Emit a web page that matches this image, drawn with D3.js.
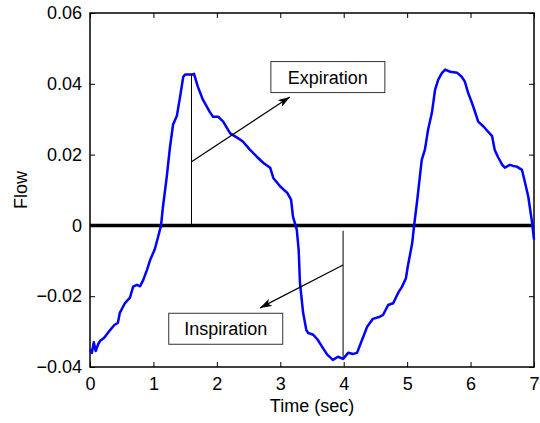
<!DOCTYPE html>
<html>
<head>
<meta charset="utf-8">
<script src="https://cdn.jsdelivr.net/npm/d3@7"></script>
<style>
  body { margin: 0; background: #fff; }
  text { font-family: "Liberation Sans", Arial, Helvetica, sans-serif; }
</style>
</head>
<body>
<div id="chart"></div>
<script>
// flow trace
var time = [0, 0.03, 0.06, 0.09, 0.13, 0.16, 0.22, 0.32, 0.38, 0.44, 0.47, 0.55, 0.63, 0.68, 0.74, 0.79, 0.84, 0.90, 0.95, 1.02,
  1.07, 1.12, 1.15, 1.21, 1.26, 1.31, 1.37, 1.42, 1.47, 1.50, 1.61, 1.64, 1.70, 1.78, 1.89, 1.94, 2.02, 2.10, 2.21, 2.32,
  2.41, 2.52, 2.63, 2.73, 2.84, 2.89, 3.00, 3.11, 3.17, 3.20, 3.26, 3.29, 3.31, 3.36, 3.41, 3.44, 3.52, 3.59, 3.66, 3.74,
  3.83, 3.91, 3.99, 4.07, 4.15, 4.21, 4.29, 4.37, 4.46, 4.57, 4.62, 4.70, 4.78, 4.86, 4.92, 4.98, 5.01, 5.08, 5.11, 5.16,
  5.20, 5.23, 5.28, 5.33, 5.39, 5.44, 5.49, 5.55, 5.60, 5.68, 5.79, 5.86, 5.91, 5.96, 6.02, 6.07, 6.12, 6.20, 6.27, 6.34,
  6.38, 6.43, 6.50, 6.54, 6.62, 6.67, 6.73, 6.81, 6.86, 6.91, 6.97, 7.0];
var flow = [-0.035, -0.036, -0.033, -0.0355, -0.0335, -0.0326, -0.0318, -0.0295, -0.0282, -0.0275, -0.0247, -0.022, -0.0204, -0.0173, -0.0168, -0.0172, -0.0154, -0.0125, -0.0097, -0.0068,
  -0.0035, 0.0, 0.0052, 0.0137, 0.022, 0.0285, 0.031, 0.0363, 0.042, 0.0426, 0.0426, 0.0428, 0.0392, 0.0355, 0.032, 0.0307, 0.0307, 0.0293, 0.026, 0.0248,
  0.0237, 0.0214, 0.0194, 0.0177, 0.0163, 0.0134, 0.011, 0.0092, 0.0073, 0.0025, -0.0012, -0.007, -0.0162, -0.0247, -0.0295, -0.0304, -0.0309, -0.0323, -0.0343, -0.0365,
  -0.038, -0.0371, -0.0377, -0.036, -0.0363, -0.036, -0.0323, -0.0286, -0.0264, -0.0258, -0.0253, -0.0225, -0.022, -0.019, -0.0173, -0.015, -0.0116, -0.005, 0.0, 0.0073,
  0.0137, 0.0185, 0.0214, 0.027, 0.0318, 0.0383, 0.0412, 0.0431, 0.044, 0.0434, 0.0431, 0.042, 0.0406, 0.0375, 0.0347, 0.0321, 0.0293, 0.028, 0.0266, 0.0252,
  0.0214, 0.0194, 0.0171, 0.0163, 0.0171, 0.0168, 0.0166, 0.0157, 0.012, 0.0081, 0.0008, -0.004];

var xTicks = [0, 1, 2, 3, 4, 5, 6, 7];
var yTicks = [-0.04, -0.02, 0, 0.02, 0.04, 0.06];

// annotations: stem line, arrow, text box (all in data units)
var noteLabels = ["Expiration", "Inspiration"];
var noteStem = [[1.6, 0, 0.0427], [3.99, -0.0015, -0.0371]];
var noteArrow = [[1.6, 0.018, 3.15, 0.0363], [3.99, -0.0112, 2.68, -0.0233]];
var noteBox = [[3.75, 0.0419], [2.14, -0.0292]];

var svgWidth = 540, svgHeight = 423;
var margin = {top: 13, right: 6, bottom: 56, left: 90};
var width = svgWidth - margin.left - margin.right;
var height = svgHeight - margin.top - margin.bottom;

var svg = d3.select("#chart").append("svg")
  .attr("width", svgWidth)
  .attr("height", svgHeight);

var defs = svg.append("defs");
defs.append("marker")
  .attr("id", "head")
  .attr("viewBox", "0 0 12 8")
  .attr("refX", 12).attr("refY", 4)
  .attr("markerWidth", 12).attr("markerHeight", 8)
  .attr("markerUnits", "userSpaceOnUse")
  .attr("orient", "auto")
  .append("path")
  .attr("d", "M0,0 L12,4 L0,8 L3,4 Z")
  .attr("fill", "#000");

var chartGroup = svg.append("g")
  .attr("transform", `translate(${margin.left}, ${margin.top})`);

var x = d3.scaleLinear().domain([0, 7]).range([0, width]);
var y = d3.scaleLinear().domain([-0.04, 0.06]).range([height, 0]);

var fmt = d => d === 0 ? "0" : d3.format(".2f")(d).replace("-", "\u2212");

// axes, ticks pointing inward on all four sides
function styleAxis(g) {
  g.select(".domain").remove();
  g.selectAll("line").attr("stroke", "#000").attr("stroke-width", 1);
  g.selectAll("text").attr("font-size", "18px").attr("fill", "#000");
}

chartGroup.append("g")
  .attr("transform", `translate(0, ${height})`)
  .call(d3.axisBottom(x).tickValues(xTicks).tickSizeInner(-5).tickSizeOuter(0).tickPadding(10).tickFormat(d3.format("d")))
  .call(styleAxis);

chartGroup.append("g")
  .call(d3.axisTop(x).tickValues(xTicks).tickSizeInner(-5).tickSizeOuter(0).tickFormat(""))
  .call(styleAxis);

chartGroup.append("g")
  .call(d3.axisLeft(y).tickValues(yTicks).tickSizeInner(-5).tickSizeOuter(0).tickPadding(8).tickFormat(fmt))
  .call(styleAxis);

chartGroup.append("g")
  .attr("transform", `translate(${width}, 0)`)
  .call(d3.axisRight(y).tickValues(yTicks).tickSizeInner(-5).tickSizeOuter(0).tickFormat(""))
  .call(styleAxis);

// axes box
chartGroup.append("rect")
  .attr("x", 0).attr("y", 0)
  .attr("width", width).attr("height", height)
  .attr("fill", "none")
  .attr("stroke", "#000")
  .attr("stroke-width", 1.5);

// zero line
chartGroup.append("line")
  .attr("x1", x(0)).attr("x2", x(7))
  .attr("y1", y(0)).attr("y2", y(0))
  .attr("stroke", "#000")
  .attr("stroke-width", 3.5);

// flow curve
var line = d3.line()
  .x(d => x(d[0]))
  .y(d => y(d[1]));

chartGroup.append("path")
  .datum(d3.zip(time, flow))
  .attr("d", line)
  .attr("fill", "none")
  .attr("stroke", "#0000ff")
  .attr("stroke-width", 2.5)
  .attr("stroke-linejoin", "round");

// annotations
noteLabels.forEach(function(label, i) {
  var s = noteStem[i], a = noteArrow[i], b = noteBox[i];
  chartGroup.append("line")
    .attr("x1", x(s[0])).attr("x2", x(s[0]))
    .attr("y1", y(s[1])).attr("y2", y(s[2]))
    .attr("stroke", "#000").attr("stroke-width", 1);
  chartGroup.append("line")
    .attr("x1", x(a[0])).attr("y1", y(a[1]))
    .attr("x2", x(a[2])).attr("y2", y(a[3]))
    .attr("stroke", "#000").attr("stroke-width", 1.2)
    .attr("marker-end", "url(#head)");
  chartGroup.append("rect")
    .attr("x", x(b[0]) - 57).attr("y", y(b[1]) - 15.5)
    .attr("width", 114).attr("height", 31)
    .attr("fill", "#fff")
    .attr("stroke", "#333").attr("stroke-width", 1);
  chartGroup.append("text")
    .attr("x", x(b[0])).attr("y", y(b[1]) + 6.5)
    .attr("text-anchor", "middle")
    .attr("font-size", "18px")
    .text(label);
});

// axis labels
svg.append("text")
  .attr("x", margin.left + width / 2)
  .attr("y", 412)
  .attr("text-anchor", "middle")
  .attr("font-size", "18px")
  .text("Time (sec)");

svg.append("text")
  .attr("transform", `translate(27, ${margin.top + height / 2}) rotate(-90)`)
  .attr("text-anchor", "middle")
  .attr("font-size", "18px")
  .text("Flow");
</script>
</body>
</html>
